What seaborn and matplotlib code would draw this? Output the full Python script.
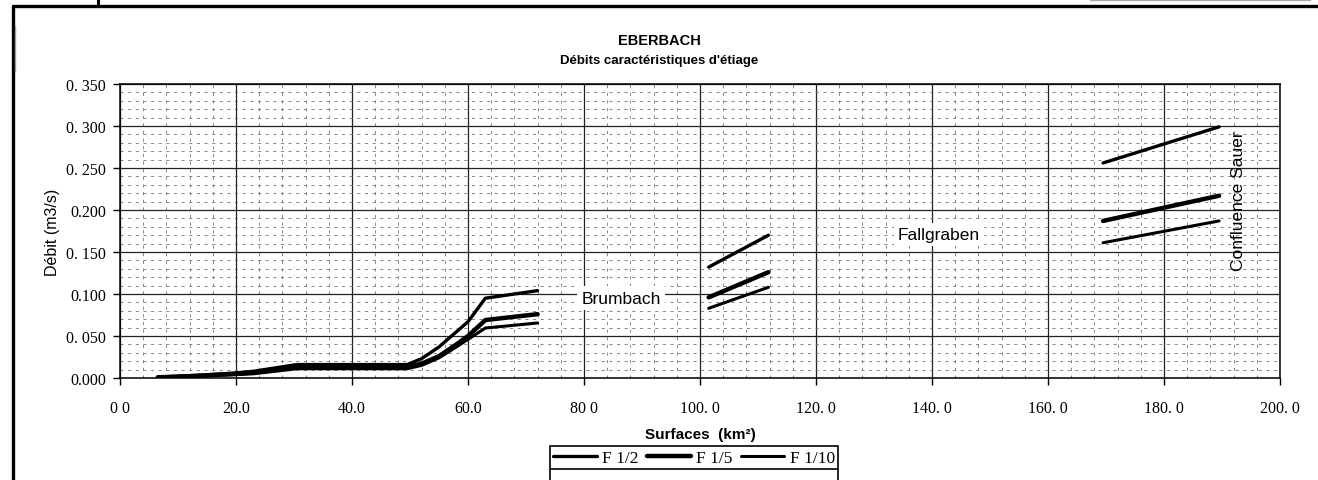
import matplotlib
matplotlib.use("Agg")
import matplotlib.pyplot as plt
from matplotlib.lines import Line2D
from matplotlib.ticker import MultipleLocator
import pandas as pd
import seaborn as sns

# Débits caractéristiques d'étiage (m3/s) against drainage area (km²), one list per reach
surf_eberbach = [6.5, 13.0, 20.0, 23.0, 30.5, 49.5, 52.0, 55.0, 58.0, 60.0, 63.0, 72.0]
f2_eberbach = [0.001, 0.003, 0.006, 0.008, 0.016, 0.016, 0.023, 0.037, 0.055, 0.067, 0.095, 0.104]
f5_eberbach = [0.0008, 0.0025, 0.005, 0.0065, 0.013, 0.013, 0.017, 0.026, 0.040, 0.050, 0.069, 0.076]
f10_eberbach = [0.0005, 0.002, 0.004, 0.005, 0.011, 0.011, 0.015, 0.024, 0.037, 0.046, 0.0595, 0.0655]

surf_brumbach = [101.5, 111.8]
f2_brumbach = [0.132, 0.170]
f5_brumbach = [0.096, 0.126]
f10_brumbach = [0.083, 0.108]

surf_sauer = [169.5, 189.5]
f2_sauer = [0.256, 0.299]
f5_sauer = [0.187, 0.217]
f10_sauer = [0.161, 0.187]

series_names = ["F 1/2", "F 1/5", "F 1/10"]
line_widths = {"F 1/2": 2.4, "F 1/5": 3.2, "F 1/10": 2.2}

x_ticks = [0, 20, 40, 60, 80, 100, 120, 140, 160, 180, 200]
x_tick_labels = ["0 0", "20.0", "40.0", "60.0", "80 0", "100. 0", "120. 0",
                 "140. 0", "160. 0", "180. 0", "200. 0"]
y_ticks = [0.0, 0.05, 0.10, 0.15, 0.20, 0.25, 0.30, 0.35]
y_tick_labels = ["0.000", "0. 050", "0.100", "0. 150", "0.200", "0. 250", "0. 300", "0. 350"]

reaches = [
    ("amont", surf_eberbach, {"F 1/2": f2_eberbach, "F 1/5": f5_eberbach, "F 1/10": f10_eberbach}),
    ("brumbach", surf_brumbach, {"F 1/2": f2_brumbach, "F 1/5": f5_brumbach, "F 1/10": f10_brumbach}),
    ("sauer", surf_sauer, {"F 1/2": f2_sauer, "F 1/5": f5_sauer, "F 1/10": f10_sauer}),
]
rows = []
for reach, surf, values in reaches:
    for name in series_names:
        for s, q in zip(surf, values[name]):
            rows.append({"troncon": reach, "serie": name, "surface": s, "debit": q})
df = pd.DataFrame(rows)

sns.set_theme(style="white")
plt.rcParams["font.family"] = ["Liberation Sans", "DejaVu Sans"]
plt.rcParams["text.color"] = "black"
plt.rcParams["axes.labelcolor"] = "black"
serif = "Liberation Serif"

W, H = 1318, 481
fig = plt.figure(figsize=(W / 100, H / 100), dpi=100)
ax = fig.add_axes([120 / W, 1 - 379 / H, 1160 / W, 294 / H])

sns.lineplot(data=df, x="surface", y="debit", hue="serie", size="serie",
             units="troncon", estimator=None, sort=False,
             palette={n: "black" for n in series_names}, sizes=line_widths,
             hue_order=series_names, size_order=series_names,
             legend=False, ax=ax, zorder=3)

ax.set_xlim(0, 200)
ax.set_ylim(0, 0.35)
ax.set_xticks(x_ticks, x_tick_labels, fontfamily=serif, fontsize=11.5)
ax.set_yticks(y_ticks, y_tick_labels, fontfamily=serif, fontsize=11.5)
ax.xaxis.set_minor_locator(MultipleLocator(4))
ax.yaxis.set_minor_locator(MultipleLocator(0.01))
ax.set_axisbelow(True)
ax.grid(which="major", color="#222222", lw=0.9, ls="-")
ax.grid(which="minor", color="#666666", lw=0.55, ls=(0, (4, 6)))
ax.tick_params(which="major", direction="out", length=5, width=1, color="black",
               left=True, bottom=True, labelcolor="black")
ax.tick_params(axis="x", which="major", pad=11)
ax.tick_params(axis="y", which="major", pad=5)
ax.tick_params(which="minor", length=0)
for sp in ax.spines.values():
    sp.set_color("black")
    sp.set_linewidth(1.1)

ax.set_ylabel("Débit (m3/s)", fontsize=11.5)
ax.yaxis.set_label_coords((52 - 120) / 1160, 0.5)
ax.yaxis.label.set_va("center")
ax.set_xlabel("Surfaces  (km²)", fontsize=11, fontweight="bold")
ax.xaxis.set_label_coords(0.5, (379 - 435) / 294)
ax.xaxis.label.set_va("center")

label_box = dict(facecolor="white", edgecolor="none", pad=3)
ax.text(86.4, 0.0952, "Brumbach", ha="center", va="center", fontsize=12.5, bbox=label_box, zorder=4)
ax.text(141.2, 0.171, "Fallgraben", ha="center", va="center", fontsize=12.5, bbox=label_box, zorder=4)
ax.text(192.8, 0.212, "Confluence Sauer", ha="center", va="center", fontsize=12.5,
        rotation=90, zorder=4)

fig.text(0.5, 1 - 41 / H, "EBERBACH", ha="center", va="center", fontsize=10.5, fontweight="bold")
fig.text(0.5, 1 - 61 / H, "Débits caractéristiques d'étiage", ha="center", va="center",
         fontsize=9.5, fontweight="bold")

handles = [Line2D([0], [0], color="black", lw=line_widths[n]) for n in series_names]
leg = fig.legend(handles, series_names, loc="upper left", bbox_to_anchor=(550 / W, 1 - 447 / H),
                 ncol=3, frameon=True, fancybox=False, edgecolor="black",
                 prop={"family": serif, "size": 12.5}, handlelength=2.5, handletextpad=0.3,
                 columnspacing=0.5, borderpad=0.2, borderaxespad=0)
leg.get_frame().set_linewidth(1.2)
leg.get_frame().set_alpha(1)

# Sheet frame lines and the box continuing below the legend
fig.canvas.draw()
bb = leg.get_window_extent().transformed(fig.transFigure.inverted())
for xe in (bb.x0, bb.x1):
    fig.add_artist(Line2D([xe, xe], [0, bb.y0], transform=fig.transFigure, color="black", lw=1.2))
fig.add_artist(Line2D([13 / W, 13 / W], [0, 1 - 7 / H], transform=fig.transFigure, color="black", lw=2.4))
fig.add_artist(Line2D([13 / W, 1], [1 - 7 / H, 1 - 7 / H], transform=fig.transFigure, color="black", lw=2.4))
fig.add_artist(Line2D([98 / W, 98 / W], [1 - 7 / H, 1], transform=fig.transFigure, color="black", lw=2.2))
fig.add_artist(Line2D([1090 / W, 1310 / W], [1 - 0.6 / H, 1 - 0.6 / H], transform=fig.transFigure,
                      color="#aaaaaa", lw=1))
fig.add_artist(Line2D([15 / W, 15 / W], [1 - 27 / H, 1 - 72 / H], transform=fig.transFigure,
                      color="#999999", lw=1))

fig.savefig("out.png", dpi=100, facecolor="white")
